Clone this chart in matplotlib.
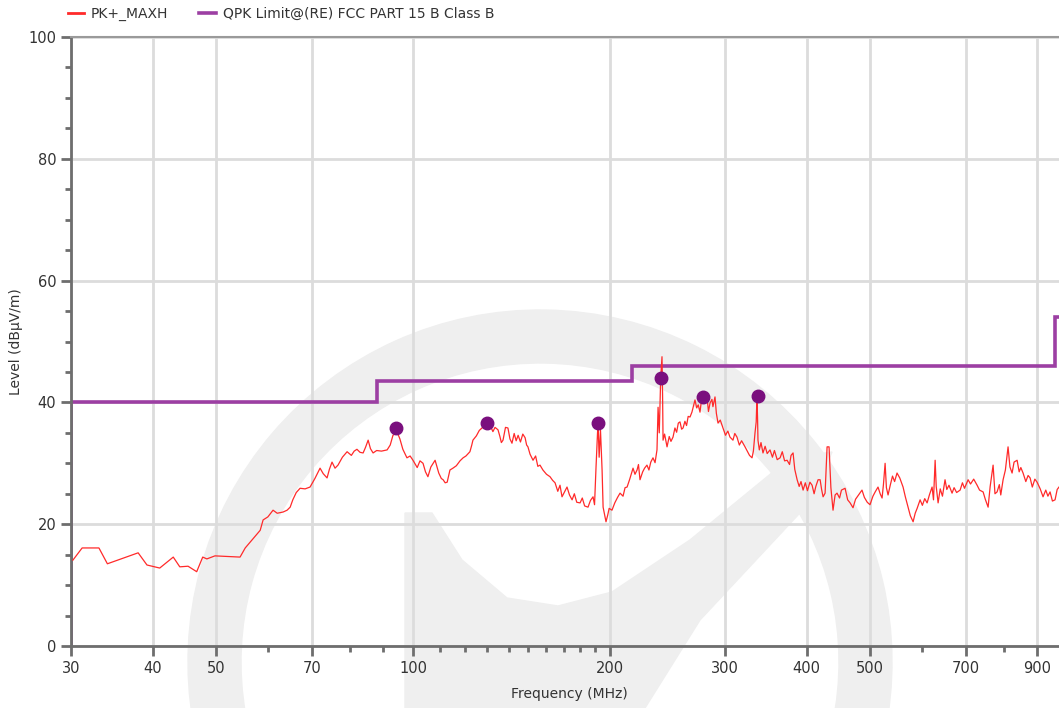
import numpy as np
import matplotlib.pyplot as plt
from matplotlib.patches import Wedge, Polygon
from matplotlib.lines import Line2D
from matplotlib.ticker import FixedLocator, NullFormatter

# PK+_MAXH trace (MHz, dBuV/m)
freq_mhz = [30.2, 31.2, 33.1, 34.1, 38.0, 39.2, 41.0, 43.0, 44.0, 45.3, 46.7, 47.7, 48.4,
            49.8, 54.4, 55.4, 58.4, 59.0, 60.0, 61.1, 62.0, 63.3, 64.2, 64.9, 65.5, 66.3,
            67.2, 68.4, 69.6, 70.8, 72.1, 72.9, 73.9, 74.5, 75.2, 76.0, 76.8, 78.0, 79.3,
            80.5, 81.3, 82.1, 83.0, 83.9, 84.6, 85.4, 86.1, 86.9, 88.0, 89.5, 91.3, 92.3,
            93.2, 94.6, 95.5, 96.5, 97.9, 99.0, 100.0, 101.5, 102.5, 103.6, 104.5, 105.4,
            106.5, 108.1, 109.5, 110.5, 111.2, 112.0, 112.8, 113.9, 115.1, 116.5, 118.0,
            119.3, 120.5, 122.2, 123.0, 123.5, 125.0, 126.3, 127.5, 128.8, 130.2, 131.5,
            132.5, 133.5, 134.9, 135.8, 136.5, 137.3, 138.5, 139.7, 140.7, 141.7, 142.8,
            143.8, 144.8, 146.0, 147.2, 148.4, 149.2, 149.9, 151.0, 152.6, 154.0, 155.2,
            156.4, 158.0, 160.0, 162.0, 163.5, 164.9, 166.5, 167.8, 169.0, 170.5, 172.0,
            173.5, 175.1, 176.5, 178.0, 180.1, 181.5, 183.0, 185.2, 186.8, 188.5, 189.5,
            190.5, 191.5, 191.9, 192.6, 193.5, 194.6, 195.3, 196.3, 197.3, 198.5, 199.5,
            201.5, 203.5, 205.5, 207.3, 209.5, 211.0, 212.5, 214.5, 216.0, 217.0, 218.5,
            220.1, 221.2, 222.4, 224.5, 226.0, 227.9, 229.5, 231.0, 232.8, 234.5, 236.1,
            237.0, 238.0, 239.2, 240.3, 240.8, 241.2, 242.5, 244.6, 246.5, 248.0, 249.8,
            251.5, 253.0, 254.5, 256.0, 257.5, 258.8, 260.5, 262.0, 263.5, 265.2, 267.0,
            268.5, 269.9, 271.5, 273.0, 274.7, 276.0, 277.7, 279.5, 281.5, 283.0, 284.6,
            286.5, 287.5, 289.6, 291.0, 292.7, 295.0, 297.9, 300.5, 303.0, 305.3, 308.5,
            310.5, 312.9, 315.5, 318.0, 321.9, 324.5, 327.0, 329.9, 331.5, 333.4, 334.8,
            335.7, 336.4, 336.9, 338.5, 340.5, 342.9, 345.5, 348.0, 351.5, 354.5, 357.0,
            360.5, 364.2, 367.0, 370.0, 373.3, 376.5, 378.5, 381.2, 383.5, 386.7, 389.5,
            392.0, 394.9, 398.0, 401.0, 404.5, 407.6, 410.5, 413.0, 416.3, 419.3, 421.5,
            423.7, 426.7, 429.7, 432.7, 435.5, 438.8, 442.0, 445.0, 449.0, 452.0, 457.8,
            462.0, 466.0, 470.8, 475.0, 480.0, 485.9, 490.0, 495.0, 499.8, 505.0, 509.0,
            514.1, 518.0, 521.5, 524.0, 527.1, 529.5, 532.6, 537.0, 541.0, 545.0, 549.7,
            555.0, 561.5, 566.0, 571.5, 576.0, 581.7, 586.0, 590.0, 596.2, 601.0, 606.0,
            611.1, 616.0, 621.9, 625.0, 628.6, 631.0, 635.2, 640.0, 645.0, 650.9, 655.0,
            660.0, 667.2, 672.0, 678.0, 686.4, 692.0, 697.0, 706.0, 712.0, 720.0, 728.7,
            735.0, 744.3, 750.0, 757.5, 763.0, 770.9, 776.0, 781.8, 788.0, 792.0, 798.5,
            805.0, 812.6, 818.0, 824.2, 830.0, 838.9, 845.0, 850.0, 856.7, 865.0, 872.0,
            878.2, 885.0, 893.0, 900.1, 910.0, 919.1, 928.0, 935.0, 942.1, 950.0, 958.8,
            966.0, 972.3]
level_dbuv = [14.1, 16.1, 16.1, 13.5, 15.3, 13.3, 12.8, 14.6, 13.0, 13.1, 12.2, 14.6, 14.3,
              14.8, 14.6, 16.1, 19.0, 20.7, 21.2, 22.3, 21.8, 22.0, 22.3, 22.8, 24.0, 25.2,
              25.9, 25.8, 26.1, 27.5, 29.2, 28.3, 27.6, 29.0, 30.2, 29.2, 29.7, 31.0, 31.9,
              31.3, 32.0, 32.3, 31.8, 31.7, 32.6, 33.8, 32.4, 31.7, 32.1, 32.0, 32.2, 33.0,
              34.6, 35.1, 34.0, 32.3, 30.9, 31.2, 30.5, 29.3, 30.4, 30.0, 28.6, 27.8,
              29.4, 30.5, 28.4, 27.5, 27.3, 26.8, 26.9, 28.9, 29.2, 29.6, 30.4,
              30.9, 31.2, 31.9, 33.0, 33.8, 34.5, 35.4, 35.8, 36.2, 36.6, 36.0,
              35.2, 35.9, 35.5, 34.4, 33.4, 33.8, 35.9, 35.8, 34.0, 33.3, 34.9,
              33.7, 34.6, 33.5, 34.8, 34.2, 33.0, 32.7, 31.5, 30.5, 31.2, 29.5,
              29.7, 28.9, 28.2, 27.8, 27.2, 26.8, 25.4, 26.4, 24.5, 25.3, 26.1,
              24.8, 24.0, 25.0, 23.6, 23.5, 24.3, 23.0, 22.8, 23.9, 24.5, 23.2,
              29.4, 35.0, 36.3, 31.0, 35.5, 28.9, 22.8, 21.6, 20.4, 21.5, 22.6,
              22.3, 23.5, 24.4, 25.1, 24.6, 26.0, 26.1, 27.4, 28.5, 29.2, 28.2,
              28.9, 29.8, 27.3, 28.6, 29.2, 29.7, 28.9, 30.2, 30.9, 30.1, 32.2,
              39.2, 35.0, 44.0, 47.5, 41.0, 33.8, 34.8, 32.7, 34.4, 33.6, 34.3,
              35.8, 35.1, 36.6, 36.8, 35.6, 35.8, 36.9, 36.2, 37.7, 37.6, 38.4,
              39.4, 40.4, 39.1, 39.6, 38.4, 40.2, 41.2, 40.3, 41.0, 38.5, 39.9,
              40.5, 39.3, 40.9, 38.2, 36.6, 37.1, 35.8, 34.6, 35.3, 34.3, 33.8,
              34.9, 34.3, 33.0, 33.7, 32.7, 32.0, 31.3, 30.9, 32.0, 35.0, 36.8,
              40.9, 37.5, 33.8, 32.2, 33.4, 31.7, 32.8, 31.6, 32.2, 31.0, 32.1,
              30.6, 30.9, 31.9, 30.4, 30.5, 29.8, 31.3, 31.7, 29.0, 27.3, 26.2,
              27.0, 25.6, 26.8, 25.5, 26.9, 26.4, 25.0, 26.2, 27.3, 27.3, 25.7,
              24.5, 25.1, 32.7, 32.7, 26.0, 22.3, 24.8, 25.1, 24.3, 25.6, 25.9,
              24.0, 23.5, 22.7, 24.1, 24.8, 25.6, 24.4, 23.6, 23.2, 24.6, 25.3,
              26.1, 25.0, 24.3, 26.5, 30.0, 26.0, 24.8, 26.5, 27.9, 27.0, 28.4,
              27.6, 26.1, 24.5, 22.8, 21.4, 20.4, 21.8, 22.6, 24.0, 23.1, 24.2,
              23.5, 24.8, 26.1, 24.0, 30.5, 26.2, 23.5, 25.8, 24.6, 27.3, 25.7,
              26.4, 25.1, 26.0, 25.2, 25.6, 26.8, 25.9, 27.3, 26.6, 27.4, 26.4,
              25.6, 25.3, 24.1, 22.8, 26.2, 29.7, 25.0, 25.3, 26.5, 24.8, 27.3,
              28.9, 32.7, 29.4, 28.4, 30.2, 30.5, 28.6, 29.3, 28.4, 27.0, 28.0,
              27.6, 26.1, 27.4, 26.9, 25.8, 24.5, 25.6, 24.6, 25.3, 23.8, 24.0,
              25.7, 26.1]

# QPK limit FCC part 15 B class B
limit_edges = [30, 88, 216, 960, 1000]
limit_values = [40, 43.5, 46, 54]

# peak markers
peak_freq = [94.2, 129.9, 191.9, 239.5, 277.7, 337.0]
peak_level = [35.8, 36.6, 36.6, 44.0, 40.9, 41.0]

major_x = [30, 40, 50, 70, 100, 200, 300, 400, 500, 700, 900]
minor_x = [60, 80, 90, 110, 120, 130, 140, 150, 160, 170, 180, 190, 600, 800]

W, H = 1059, 708
fig = plt.figure(figsize=(W / 100, H / 100), dpi=100)
ax = fig.add_axes([71 / W, 62 / H, 996 / W, 609 / H])


def px(pts):
    # watermark outline given in pixels from the top-left corner
    return [(x / 100, (H - y) / 100) for x, y in pts]


# watermark logo in the background
wm = '#efefef'
fig.add_artist(Wedge((5.40, 0.46), 3.52, -12, 190, width=0.53, color=wm,
                     transform=fig.dpi_scale_trans, zorder=0))
fig.add_artist(Polygon(px([(405, 513), (432, 513), (462, 560), (507, 598), (558, 606),
                           (612, 592), (690, 540), (790, 458), (832, 452), (812, 500),
                           (700, 620), (645, 708), (405, 708)]),
                       color=wm, transform=fig.dpi_scale_trans, zorder=0))
ax.set_facecolor('none')

ax.set_xscale('log')
ax.set_xlim(30, 1000)
ax.set_ylim(0, 100)

ax.xaxis.set_major_locator(FixedLocator(major_x))
ax.xaxis.set_minor_locator(FixedLocator(minor_x))
ax.xaxis.set_minor_formatter(NullFormatter())
ax.set_xticklabels([str(v) for v in major_x])
ax.set_yticks(range(0, 101, 20))
ax.yaxis.set_minor_locator(FixedLocator(range(0, 101, 5)))

ax.grid(True, which='major', color='#dcdcdc', linewidth=2)
ax.set_axisbelow(True)

ax.stairs(limit_values, limit_edges, color='#9c3fa3', linewidth=2.6, zorder=2)
ax.plot(freq_mhz, level_dbuv, color='#ff2a2a', linewidth=0.9, zorder=3)
ax.plot(peak_freq, peak_level, 'o', color='#7a0f7e', markersize=9, zorder=4)

for s in ['left', 'bottom']:
    ax.spines[s].set_color('#6e6e6e')
    ax.spines[s].set_linewidth(2)
ax.spines['top'].set_color('#9a9a9a')
ax.spines['top'].set_linewidth(1.5)
ax.spines['right'].set_visible(False)

ax.tick_params(which='major', length=7, width=2, color='#6e6e6e', labelsize=10.5,
               labelcolor='#333333')
ax.tick_params(which='minor', length=4.5, width=2, color='#6e6e6e')
ax.tick_params(axis='x', which='major', pad=4)

ax.set_xlabel('Frequency (MHz)', fontsize=10, color='#333333', labelpad=8)
ax.set_ylabel('Level (dBμV/m)', fontsize=10, color='#333333', labelpad=4)

handles = [Line2D([], [], color='#ff2a2a', linewidth=2),
           Line2D([], [], color='#9c3fa3', linewidth=2.6)]
fig.legend(handles, ['PK+_MAXH', 'QPK Limit@(RE) FCC PART 15 B Class B'],
           loc='upper left', bbox_to_anchor=(55 / W, 1.008), ncol=2, frameon=False,
           fontsize=10, handlelength=1.2, columnspacing=2.2, handletextpad=0.5,
           labelcolor='#333333')

fig.savefig('out.png', dpi=100)
